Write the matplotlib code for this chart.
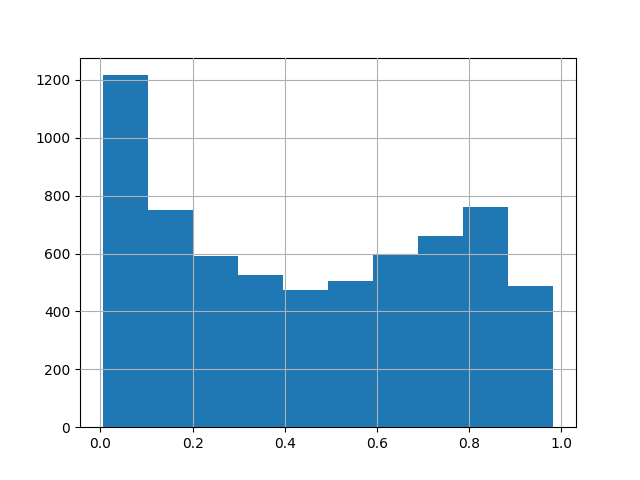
import matplotlib
matplotlib.use("Agg")
import matplotlib.pyplot as plt
import numpy as np

bin_start = 0.0045
bin_end = 0.9835
n_bins = 10
counts = [1216, 750, 591, 525, 474, 505, 599, 660, 760, 487]

edges = np.linspace(bin_start, bin_end, n_bins + 1)
fig, ax = plt.subplots(figsize=(6.4, 4.8), dpi=100)
ax.hist(edges[:-1], bins=edges, weights=counts, color="#1f77b4")
ax.grid(True)
ax.set_axisbelow(False)
fig.savefig("out.png")
